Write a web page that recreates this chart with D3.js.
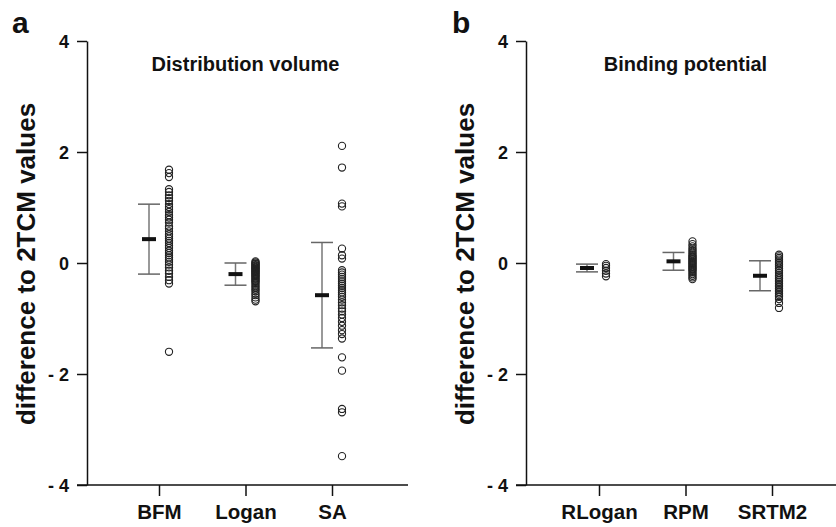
<!DOCTYPE html>
<html>
<head>
<meta charset="utf-8">
<script src="https://cdn.jsdelivr.net/npm/d3@7"></script>
<style>
  html, body { margin: 0; padding: 0; background: #fff; }
  svg text { font-family: "Liberation Sans", Arial, Helvetica, sans-serif; font-weight: bold; fill: #111; }
</style>
</head>
<body>
<svg id="chart" width="836" height="527"></svg>
<script>
// Panel a: distribution volume differences
const categoriesA = ["BFM", "Logan", "SA"];
const meansA = [0.43, -0.20, -0.58];
const sdA = [0.63, 0.20, 0.95];
const pointsBFM = [1.68, 1.62, 1.55, 1.33, 1.28, 1.22, 1.17, 1.12, 1.06, 1.01, 0.97, 0.92, 0.86, 0.82,
  0.78, 0.73, 0.66, 0.62, 0.57, 0.52, 0.48, 0.44, 0.40, 0.36, 0.31, 0.27, 0.22, 0.18, 0.14, 0.10,
  0.06, 0.02, -0.03, -0.08, -0.14, -0.19, -0.25, -0.31, -0.37, -1.60];
const pointsLogan = [0.03, 0.01, -0.01, -0.02, -0.04, -0.05, -0.07, -0.08, -0.10, -0.11, -0.13, -0.14,
  -0.16, -0.17, -0.19, -0.21, -0.22, -0.24, -0.26, -0.28, -0.30, -0.32, -0.34, -0.36, -0.39, -0.42,
  -0.45, -0.48, -0.51, -0.55, -0.58, -0.62, -0.66, -0.69];
const pointsSA = [2.11, 1.72, 1.07, 1.02, 0.26, 0.14, 0.08, -0.13, -0.17, -0.21, -0.25, -0.29, -0.33,
  -0.37, -0.41, -0.45, -0.49, -0.53, -0.57, -0.61, -0.66, -0.71, -0.76, -0.82, -0.87, -0.93, -0.99,
  -1.06, -1.13, -1.21, -1.28, -1.36, -1.70, -1.94, -2.63, -2.69, -3.48];

// Panel b: binding potential differences
const categoriesB = ["RLogan", "RPM", "SRTM2"];
const meansB = [-0.09, 0.03, -0.23];
const sdB = [0.07, 0.16, 0.27];
const pointsRLogan = [-0.02, -0.05, -0.09, -0.14, -0.19, -0.24];
const pointsRPM = [0.39, 0.34, 0.30, 0.26, 0.23, 0.20, 0.17, 0.14, 0.12, 0.10, 0.08, 0.06, 0.04, 0.02,
  0.00, -0.02, -0.04, -0.06, -0.08, -0.10, -0.12, -0.14, -0.17, -0.20, -0.23, -0.26, -0.29];
const pointsSRTM2 = [0.15, 0.12, 0.09, 0.06, 0.03, 0.00, -0.03, -0.06, -0.10, -0.14, -0.18, -0.22, -0.25,
  -0.28, -0.31, -0.34, -0.37, -0.40, -0.43, -0.46, -0.49, -0.52, -0.55, -0.58, -0.61, -0.65, -0.72, -0.81];

const yTickValues = [4, 2, 0, -2, -4];
const yTickLabels = ["4", "2", "0", "- 2", "- 4"];
const yLabel = "difference to 2TCM values";

const svg = d3.select("#chart");
const FONT = "'Liberation Sans', Arial, sans-serif";

function drawPanel(cfg) {
  const g = svg.append("g");
  const y = d3.scaleLinear().domain([-4, 4]).range([485, 41]);
  const x = d3.scalePoint().domain(cfg.categories).range(cfg.xRange);

  // panel letter
  g.append("text").attr("x", cfg.letterX).attr("y", 33)
    .style("font-size", "30px").text(cfg.letter);

  // y axis
  const yAxis = d3.axisLeft(y).tickValues(yTickValues).tickSize(10).tickSizeOuter(0)
    .tickFormat((d, i) => yTickLabels[i]);
  const ya = g.append("g").attr("transform", `translate(${cfg.axisX},0)`).call(yAxis);
  ya.select(".domain").attr("stroke", "#111").attr("stroke-width", 1.5);
  ya.selectAll(".tick line").attr("stroke", "#111").attr("stroke-width", 1.5);
  ya.selectAll(".tick text").attr("x", -18).attr("dy", "0.36em")
    .style("font-size", "18px").style("font-family", FONT)
    .style("font-weight", "bold").attr("fill", "#111");

  // x axis
  g.append("line").attr("x1", cfg.axisX - 10).attr("x2", cfg.xEnd)
    .attr("y1", y(-4)).attr("y2", y(-4)).attr("stroke", "#111").attr("stroke-width", 1.5);
  const xAxis = d3.axisBottom(x).tickSize(11).tickSizeOuter(0);
  const xa = g.append("g").attr("transform", `translate(0,${y(-4)})`).call(xAxis);
  xa.select(".domain").remove();
  xa.selectAll(".tick line").attr("stroke", "#111").attr("stroke-width", 1.5);
  xa.selectAll(".tick text").attr("y", 0).attr("dy", 0)
    .attr("transform", "translate(0,34)")
    .style("font-size", "20.5px").style("font-family", FONT)
    .style("font-weight", "bold").attr("fill", "#111");

  // y label
  g.append("text")
    .attr("transform", `translate(${cfg.axisX - 52},264) rotate(-90)`)
    .attr("text-anchor", "middle")
    .style("font-size", "26px").text(yLabel);

  // title
  g.append("text").attr("x", x(cfg.categories[1])).attr("y", 71)
    .attr("text-anchor", "middle").style("font-size", "20px")
    .text(cfg.title);

  cfg.categories.forEach((c, i) => {
    const cx = x(c) + cfg.barOffset;
    const px = x(c) + cfg.pointOffset;
    const m = cfg.means[i], s = cfg.sds[i];
    // whisker
    g.append("line").attr("x1", cx).attr("x2", cx).attr("y1", y(m + s)).attr("y2", y(m - s))
      .attr("stroke", "#777").attr("stroke-width", 1.5);
    [m + s, m - s].forEach(v => {
      g.append("line").attr("x1", cx - 11).attr("x2", cx + 11).attr("y1", y(v)).attr("y2", y(v))
        .attr("stroke", "#666").attr("stroke-width", 1.5);
    });
    // mean
    g.append("rect").attr("x", cx - 7).attr("y", y(m) - 2).attr("width", 14).attr("height", 4)
      .attr("fill", "#111");
    // individual values
    g.selectAll(null).data(cfg.points[i]).enter().append("circle")
      .attr("cx", px).attr("cy", d => y(d)).attr("r", 3.6)
      .attr("fill", "none").attr("stroke", "#222").attr("stroke-width", 1.1);
  });
}

drawPanel({
  letter: "a", letterX: 12, axisX: 87, xEnd: 408, xRange: [159, 332],
  categories: categoriesA, means: meansA, sds: sdA,
  points: [pointsBFM, pointsLogan, pointsSA],
  title: "Distribution volume", barOffset: -10, pointOffset: 10
});
drawPanel({
  letter: "b", letterX: 452, axisX: 526, xEnd: 836, xRange: [599, 772],
  categories: categoriesB, means: meansB, sds: sdB,
  points: [pointsRLogan, pointsRPM, pointsSRTM2],
  title: "Binding potential", barOffset: -12, pointOffset: 7
});
</script>
</body>
</html>
